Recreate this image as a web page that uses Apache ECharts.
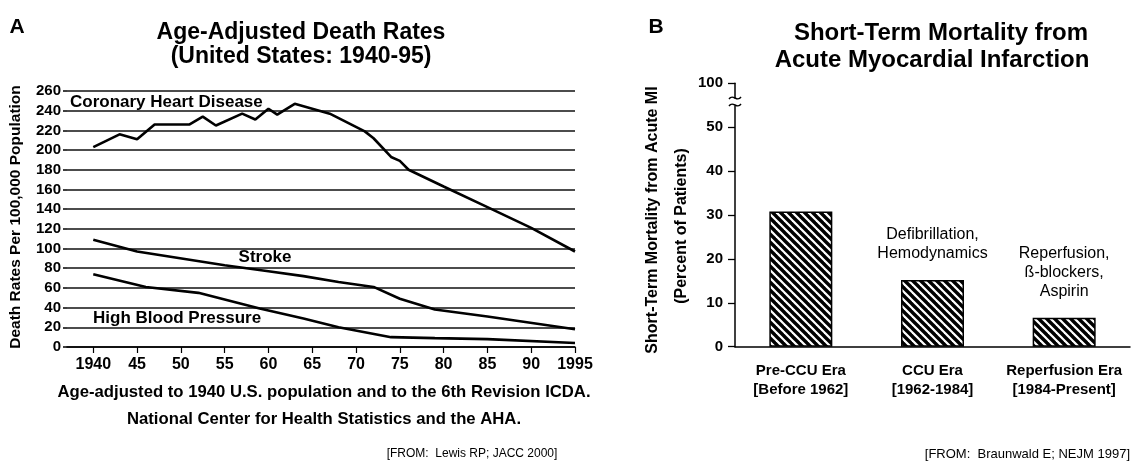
<!DOCTYPE html>
<html><head><meta charset="utf-8">
<script src="https://cdn.jsdelivr.net/npm/echarts@6/dist/echarts.min.js"></script>
<style>html,body{margin:0;padding:0;background:#fff}#c{width:1132px;height:464px}</style>
</head><body><div id="c"></div>
<script>
const FONT = '"Liberation Sans", Arial, Helvetica, sans-serif';

// ---- Panel A data ----
const xTickValues = [1940, 1945, 1950, 1955, 1960, 1965, 1970, 1975, 1980, 1985, 1990, 1995];
const xTickLabels = ['1940', '45', '50', '55', '60', '65', '70', '75', '80', '85', '90', '1995'];
const chdYears = [1940, 1943, 1945, 1947, 1951, 1952.5, 1954, 1957, 1958.5, 1960, 1961, 1963, 1965, 1967, 1971, 1972, 1974, 1975, 1976, 1980, 1985, 1990, 1995];
const chdRates = [203, 216, 211, 226, 226, 234, 225, 237, 231, 242, 236, 247, 242, 237, 219, 212, 193, 189, 180, 163, 142, 121, 97];
const strokeYears = [1940, 1945, 1955, 1960, 1964, 1968, 1972, 1975, 1979, 1985, 1995];
const strokeRates = [109, 97, 83, 77, 72, 66, 61, 49, 38, 31, 18];
const hbpYears = [1940, 1946, 1952, 1959, 1964, 1968, 1974, 1979, 1985, 1995];
const hbpRates = [74, 61, 55, 39, 29, 20, 10, 9, 8, 4];

// ---- Panel B data ----
const eras = ['Pre-CCU Era\n[Before 1962]', 'CCU Era\n[1962-1984]', 'Reperfusion Era\n[1984-Present]'];
const mortality = [30.8, 15.2, 6.6];
const eraNotes = ['', 'Defibrillation,\nHemodynamics', 'Reperfusion,\nß-blockers,\nAspirin'];
// broken axis: the top tick position stands for 100
const yTickValuesB = [0, 10, 20, 30, 40, 50, 60];
const yTickTextB = ['0', '10', '20', '30', '40', '50', '100'];

function zip(a, b) { return a.map((v, i) => [v, b[i]]); }

// hatch pattern
const pat = document.createElement('canvas');
pat.width = 8; pat.height = 8;
const g = pat.getContext('2d');
g.fillStyle = '#fff'; g.fillRect(0, 0, 8, 8);
g.strokeStyle = '#000'; g.lineWidth = 3.4; g.lineCap = 'square';
for (const k of [-8, 0, 8]) { g.beginPath(); g.moveTo(k, 0); g.lineTo(k + 8, 8); g.stroke(); }

const chart = echarts.init(document.getElementById('c'), null, { renderer: 'canvas' });
const black = '#000';
const lineSeries = (name, xs, ys) => ({
  name, type: 'line', xAxisIndex: 0, yAxisIndex: 0, data: zip(xs, ys),
  showSymbol: false, symbol: 'none', smooth: false, z: 5,
  lineStyle: { color: black, width: 2.6 }
});
function txt(text, x, y, size, opts) {
  opts = opts || {};
  return {
    type: 'text', x, y, rotation: opts.rot || 0, z: 50,
    style: {
      text, fill: black, fontFamily: FONT, fontSize: size,
      fontWeight: opts.weight || 'bold', align: opts.align || 'center',
      verticalAlign: 'middle', lineHeight: opts.lh || size * 1.15
    }
  };
}
function tilde(x, y) {
  return {
    type: 'bezierCurve', z: 60,
    shape: { x1: x - 6, y1: y + 1, cpx1: x - 2, cpy1: y - 5, cpx2: x + 2, cpy2: y + 5, x2: x + 6, y2: y - 1 },
    style: { stroke: black, lineWidth: 1.4, fill: null }
  };
}

chart.setOption({
  animation: false,
  backgroundColor: '#fff',
  textStyle: { fontFamily: FONT, color: black },
  grid: [
    { left: 67, right: 557, top: 91, bottom: 117 },
    { left: 735, right: 2, top: 83.3, bottom: 117.3 }
  ],
  xAxis: [
    {
      gridIndex: 0, type: 'value', min: 1937, max: 1995,
      axisLine: { show: true, lineStyle: { color: black, width: 1.5 } },
      axisTick: { show: true, length: 6, customValues: xTickValues, lineStyle: { color: black, width: 1.2 } },
      axisLabel: {
        customValues: xTickValues, margin: 10, color: black, fontSize: 16, fontWeight: 'bold', fontFamily: FONT,
        formatter: v => xTickLabels[xTickValues.indexOf(v)]
      },
      splitLine: { show: false }
    },
    {
      gridIndex: 1, type: 'category', data: eras,
      axisLine: { show: true, lineStyle: { color: black, width: 1.5 } },
      axisTick: { show: false },
      axisLabel: { interval: 0, margin: 15, color: black, fontSize: 15, fontWeight: 'bold', lineHeight: 19, fontFamily: FONT },
      splitLine: { show: false }
    }
  ],
  yAxis: [
    {
      gridIndex: 0, type: 'value', min: 0, max: 260, interval: 20,
      axisLine: { show: false },
      axisTick: { show: true, length: 4, lineStyle: { color: black, width: 1.5 } },
      axisLabel: { margin: 6, color: black, fontSize: 15, fontWeight: 'bold', fontFamily: FONT },
      splitLine: { show: true, lineStyle: { color: '#111', width: 1.6 } }
    },
    {
      gridIndex: 1, type: 'value', min: 0, max: 60, interval: 10,
      axisLine: { show: true, lineStyle: { color: black, width: 1.5 } },
      axisTick: { show: true, length: 7, lineStyle: { color: black, width: 1.3 } },
      axisLabel: {
        margin: 12, color: black, fontSize: 15, fontWeight: 'bold', fontFamily: FONT,
        formatter: v => yTickTextB[yTickValuesB.indexOf(v)]
      },
      splitLine: { show: false }
    }
  ],
  series: [
    lineSeries('Coronary Heart Disease', chdYears, chdRates),
    lineSeries('Stroke', strokeYears, strokeRates),
    lineSeries('High Blood Pressure', hbpYears, hbpRates),
    {
      type: 'bar', xAxisIndex: 1, yAxisIndex: 1, data: mortality, barWidth: 63,
      itemStyle: { color: { image: pat, repeat: 'repeat' }, borderColor: black, borderWidth: 1.5 },
      label: {
        show: true, position: 'top', distance: 17, color: black, fontSize: 16, lineHeight: 19,
        fontFamily: FONT, fontWeight: 'normal', formatter: p => eraNotes[p.dataIndex]
      }
    }
  ],
  graphic: [
    txt('A', 17, 27, 21),
    txt('B', 656, 27, 21),
    txt('Age-Adjusted Death Rates', 301, 33, 23),
    txt('(United States: 1940-95)', 301, 57, 23),
    txt('Short-Term Mortality from', 941, 33, 24),
    txt('Acute Myocardial Infarction', 932, 60, 24),
    txt('Coronary Heart Disease', 70, 102, 17, { align: 'left' }),
    txt('Stroke', 265, 257, 17),
    txt('High Blood Pressure', 93, 318, 17, { align: 'left' }),
    txt('Death Rates Per 100,000 Population', 16, 217, 15.5, { rot: Math.PI / 2 }),
    txt('Short-Term Mortality from Acute MI', 653, 220, 16, { rot: Math.PI / 2 }),
    txt('(Percent of Patients)', 682, 226, 16, { rot: Math.PI / 2 }),
    txt('Age-adjusted to 1940 U.S. population and to the 6th Revision ICDA.', 324, 392, 16.7),
    txt('National Center for Health Statistics and the AHA.', 324, 419, 16.7),
    txt('[FROM:  Lewis RP; JACC 2000]', 472, 454, 12, { weight: 'normal' }),
    txt('[FROM:  Braunwald E; NEJM 1997]', 1130, 454, 13, { weight: 'normal', align: 'right' }),
    { type: 'rect', z: 55, shape: { x: 730, y: 98.5, width: 10, height: 7 }, style: { fill: '#fff' } },
    tilde(735, 98),
    tilde(735, 105)
  ]
});
</script></body></html>
